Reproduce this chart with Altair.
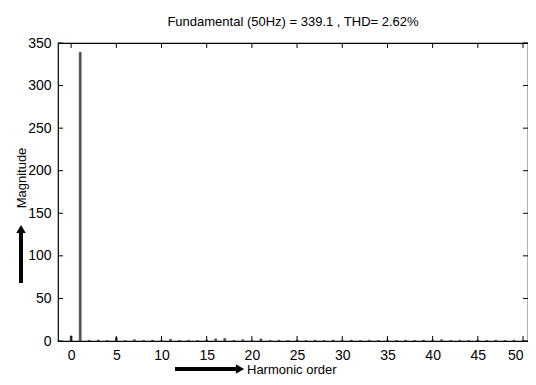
import altair as alt
import pandas as pd

harmonic = list(range(0, 51))
magnitude = [6.0, 339.1, 0.8, 1.2, 0.6, 4.0, 0.5, 1.5, 0.6, 1.0, 0.7, 2.0, 0.6, 1.0,
             0.6, 1.2, 2.5, 3.0, 0.6, 1.5, 0.7, 2.5, 0.6, 1.0, 0.6, 1.2, 0.7, 1.0,
             0.6, 1.2, 0.7, 1.0, 0.6, 1.0, 0.6, 1.2, 0.7, 1.0, 0.6, 1.0, 0.6, 1.5,
             0.6, 1.0, 0.6, 1.2, 0.6, 1.0, 0.6, 1.0, 0.6]
x_ticks = [0, 5, 10, 15, 20, 25, 30, 35, 40, 45, 50]
y_ticks = [0, 50, 100, 150, 200, 250, 300, 350]
title_text = "Fundamental (50Hz) = 339.1 , THD= 2.62%"
x_title = "Harmonic order"
y_title = "Magnitude"

W, H = 470, 298
FONT = "Liberation Sans"
FS = 13

df = pd.DataFrame({"h": harmonic, "m": magnitude})
xt = pd.DataFrame({"t": x_ticks})
yt = pd.DataFrame({"t": y_ticks})

xs = alt.Scale(domain=[-0.9, 50], nice=False, zero=False)
ys = alt.Scale(domain=[0, 350], nice=False)

bars = alt.Chart(df).mark_bar(width=2, color="#555555", stroke="#333333", strokeWidth=0.5).encode(
    x=alt.X("h:Q", scale=xs,
            axis=alt.Axis(values=x_ticks, title=None, tickSize=0, labelPadding=7, domain=False,
                          grid=False, labelFont=FONT, labelFontSize=14, labelColor="black",
                          labelAlign=alt.expr("datum.value >= 50 ? 'right' : 'center'"))),
    y=alt.Y("m:Q", scale=ys,
            axis=alt.Axis(values=y_ticks, title=None, tickSize=0, labelPadding=7, domain=False,
                          grid=False, labelFont=FONT, labelFontSize=14, labelColor="black")),
)

tick_b = alt.Chart(xt).mark_rule(color="black").encode(
    x=alt.X("t:Q", scale=xs), y=alt.value(H), y2=alt.value(H - 5))
tick_t = alt.Chart(xt).mark_rule(color="black").encode(
    x=alt.X("t:Q", scale=xs), y=alt.value(0), y2=alt.value(5))
tick_l = alt.Chart(yt).mark_rule(color="black").encode(
    y=alt.Y("t:Q", scale=ys), x=alt.value(0), x2=alt.value(5))
tick_r = alt.Chart(yt).mark_rule(color="black").encode(
    y=alt.Y("t:Q", scale=ys), x=alt.value(W), x2=alt.value(W - 5))

title = alt.Chart(pd.DataFrame({"s": [title_text]})).mark_text(
    font=FONT, fontSize=FS, color="black", align="center", baseline="alphabetic").encode(
    text="s:N", x=alt.value(W / 2), y=alt.value(-17))

xlab = alt.Chart(pd.DataFrame({"s": [x_title]})).mark_text(
    font=FONT, fontSize=FS, color="black", align="left", baseline="middle").encode(
    text="s:N", x=alt.value(189), y=alt.value(327))
x_shaft = alt.Chart(pd.DataFrame({"s": [0]})).mark_rule(color="black", strokeWidth=4).encode(
    x=alt.value(117), x2=alt.value(178), y=alt.value(326))
x_head = alt.Chart(pd.DataFrame({"s": [0]})).mark_point(
    shape="triangle-right", filled=True, color="black", size=90, opacity=1).encode(
    x=alt.value(182), y=alt.value(326))

ylab = alt.Chart(pd.DataFrame({"s": [y_title]})).mark_text(
    font=FONT, fontSize=FS, color="black", align="center", baseline="middle", angle=270).encode(
    text="s:N", x=alt.value(-36), y=alt.value(135))
y_shaft = alt.Chart(pd.DataFrame({"s": [0]})).mark_rule(color="black", strokeWidth=4).encode(
    x=alt.value(-37), y=alt.value(240), y2=alt.value(188))
y_head = alt.Chart(pd.DataFrame({"s": [0]})).mark_point(
    shape="triangle-up", filled=True, color="black", size=90, opacity=1).encode(
    x=alt.value(-37), y=alt.value(186))

chart = alt.layer(bars, tick_b, tick_t, tick_l, tick_r, title, xlab, x_shaft, x_head,
                  ylab, y_shaft, y_head).properties(
    width=W, height=H,
    autosize=alt.AutoSizeParams(type="none"),
    padding={"left": 50, "top": 35, "right": 0, "bottom": 36},
    background="white",
).configure_view(stroke="black", strokeWidth=1.2)

chart.save("out.html", embed_options={"renderer": "svg", "actions": False})
